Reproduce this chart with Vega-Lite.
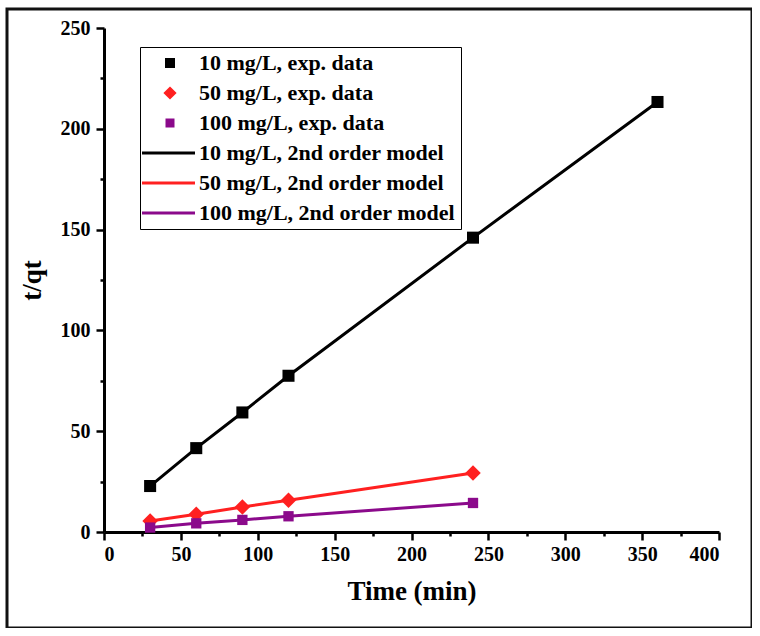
{
  "$schema": "https://vega.github.io/schema/vega-lite/v6.json",
  "width": 745,
  "height": 619,
  "autosize": "none",
  "padding": {"left": 7, "top": 9, "right": 0, "bottom": 0},
  "background": "white",
  "datasets": {
    "exp": [
      {"label": "10 mg/L, exp. data", "time": 30, "tq": 22.8},
      {"label": "10 mg/L, exp. data", "time": 60, "tq": 41.6},
      {"label": "10 mg/L, exp. data", "time": 90, "tq": 59.3},
      {"label": "10 mg/L, exp. data", "time": 120, "tq": 77.5},
      {"label": "10 mg/L, exp. data", "time": 240, "tq": 146},
      {"label": "10 mg/L, exp. data", "time": 360, "tq": 213.3},
      {"label": "50 mg/L, exp. data", "time": 30, "tq": 5.5},
      {"label": "50 mg/L, exp. data", "time": 60, "tq": 8.8},
      {"label": "50 mg/L, exp. data", "time": 90, "tq": 12.4},
      {"label": "50 mg/L, exp. data", "time": 120, "tq": 15.8},
      {"label": "50 mg/L, exp. data", "time": 240, "tq": 29.3},
      {"label": "100 mg/L, exp. data", "time": 30, "tq": 2.2},
      {"label": "100 mg/L, exp. data", "time": 60, "tq": 4.3},
      {"label": "100 mg/L, exp. data", "time": 90, "tq": 6},
      {"label": "100 mg/L, exp. data", "time": 120, "tq": 7.8},
      {"label": "100 mg/L, exp. data", "time": 240, "tq": 14.4}
    ],
    "model": [
      {"label": "10 mg/L, 2nd order model", "time": 30, "tq": 22.8},
      {"label": "10 mg/L, 2nd order model", "time": 60, "tq": 41.6},
      {"label": "10 mg/L, 2nd order model", "time": 90, "tq": 59.3},
      {"label": "10 mg/L, 2nd order model", "time": 120, "tq": 77.5},
      {"label": "10 mg/L, 2nd order model", "time": 240, "tq": 146},
      {"label": "10 mg/L, 2nd order model", "time": 360, "tq": 213.3},
      {"label": "50 mg/L, 2nd order model", "time": 30, "tq": 5.5},
      {"label": "50 mg/L, 2nd order model", "time": 60, "tq": 8.8},
      {"label": "50 mg/L, 2nd order model", "time": 90, "tq": 12.4},
      {"label": "50 mg/L, 2nd order model", "time": 120, "tq": 15.8},
      {"label": "50 mg/L, 2nd order model", "time": 240, "tq": 29.3},
      {"label": "100 mg/L, 2nd order model", "time": 30, "tq": 2.2},
      {"label": "100 mg/L, 2nd order model", "time": 60, "tq": 4.3},
      {"label": "100 mg/L, 2nd order model", "time": 90, "tq": 6},
      {"label": "100 mg/L, 2nd order model", "time": 120, "tq": 7.8},
      {"label": "100 mg/L, 2nd order model", "time": 240, "tq": 14.4}
    ]
  },
  "layer": [
    {
      "data": {"name": "model"},
      "mark": {"type": "line", "strokeWidth": 3},
      "encoding": {
        "x": {
          "field": "time",
          "type": "quantitative",
          "scale": {"domain": [0, 400], "range": [97, 712], "nice": false},
          "axis": {
            "title": "Time (min)",
            "orient": "bottom",
            "offset": -96,
            "values": [0, 25, 50, 75, 100, 125, 150, 175, 200, 225, 250, 275, 300, 325, 350, 375, 400],
            "labelExpr": "datum.value % 50 === 0 ? datum.label : ''",
            "tickSize": {"condition": {"test": "datum.value % 50 !== 0", "value": 4}, "value": 8},
            "labelPadding": 4,
            "titlePadding": 14
          }
        },
        "y": {
          "field": "tq",
          "type": "quantitative",
          "scale": {"domain": [0, 250], "range": [523, 19], "nice": false},
          "axis": {
            "title": "t/qt",
            "orient": "left",
            "offset": -97,
            "values": [0, 25, 50, 75, 100, 125, 150, 175, 200, 225, 250],
            "labelExpr": "datum.value % 50 === 0 ? datum.label : ''",
            "tickSize": {"condition": {"test": "datum.value % 50 !== 0", "value": 4}, "value": 8},
            "labelPadding": 6,
            "titlePadding": 14
          }
        },
        "color": {
          "field": "label",
          "type": "nominal",
          "scale": {
            "domain": ["10 mg/L, exp. data", "50 mg/L, exp. data", "100 mg/L, exp. data", "10 mg/L, 2nd order model", "50 mg/L, 2nd order model", "100 mg/L, 2nd order model"],
            "range": ["#000000", "#ff2020", "#8b0a8b", "#000000", "#ff2020", "#8b0a8b"]
          },
          "legend": {
            "title": null,
            "encoding": {
              "symbols": {
                "update": {
                  "fill": {"scale": "color", "field": "value"},
                  "stroke": {"scale": "color", "field": "value"},
                  "strokeWidth": {"value": 3},
                  "opacity": {"value": 1}
                }
              }
            }
          }
        }
      }
    },
    {
      "data": {"name": "exp"},
      "mark": {"type": "point", "filled": true, "opacity": 1, "size": 296},
      "encoding": {
        "x": {"field": "time", "type": "quantitative"},
        "y": {"field": "tq", "type": "quantitative"},
        "color": {"field": "label", "type": "nominal"},
        "shape": {
          "field": "label",
          "type": "nominal",
          "scale": {
            "domain": ["10 mg/L, exp. data", "50 mg/L, exp. data", "100 mg/L, exp. data", "10 mg/L, 2nd order model", "50 mg/L, 2nd order model", "100 mg/L, 2nd order model"],
            "range": ["M-0.7,-0.7H0.7V0.7H-0.7Z", "M0,-0.9L0.9,0L0,0.9L-0.9,0Z", "M-0.6,-0.6H0.6V0.6H-0.6Z", "M-5.6,0H5", "M-5.6,0H5", "M-5.6,0H5"]
          },
          "legend": {
            "title": null,
            "encoding": {
              "symbols": {
                "update": {
                  "fill": {"scale": "color", "field": "value"},
                  "stroke": {"scale": "color", "field": "value"},
                  "strokeWidth": {"value": 3},
                  "opacity": {"value": 1}
                }
              }
            }
          }
        }
      }
    }
  ],
  "config": {
    "font": "Liberation Serif",
    "view": {"stroke": "#111111", "strokeWidth": 3},
    "axis": {
      "grid": false,
      "domainColor": "#000000",
      "domainWidth": 3,
      "tickColor": "#000000",
      "tickWidth": 2.5,
      "labelFont": "Liberation Serif",
      "labelFontWeight": "bold",
      "labelFontSize": 20,
      "labelColor": "#000000",
      "titleFont": "Liberation Serif",
      "titleFontWeight": "bold",
      "titleFontSize": 27,
      "titleColor": "#000000"
    },
    "legend": {
      "orient": "none",
      "legendX": 133,
      "legendY": 38,
      "strokeColor": "#000000",
      "strokeWidth": 1,
      "padding": 5,
      "symbolSize": 100,
      "symbolStrokeWidth": 3,
      "symbolOffset": 14,
      "labelOffset": 18,
      "rowPadding": 8,
      "labelFont": "Liberation Serif",
      "labelFontWeight": "bold",
      "labelFontSize": 22,
      "labelColor": "#000000",
      "labelLimit": 400,
      "symbolOpacity": 1
    }
  }
}
